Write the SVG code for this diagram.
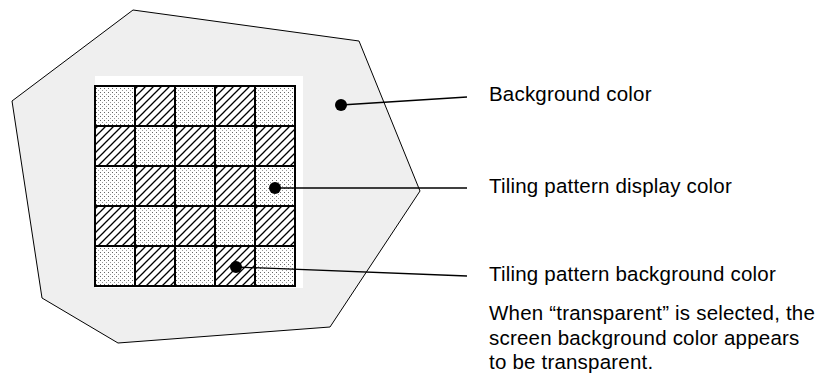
<svg xmlns="http://www.w3.org/2000/svg" width="827" height="374" viewBox="0 0 827 374">
<defs>
<pattern id="hatch" patternUnits="userSpaceOnUse" width="8" height="8">
<path d="M-2,2 L2,-2 M0,8 L8,0 M6,10 L10,6" stroke="#000" stroke-width="1.3"/>
</pattern>
<pattern id="dots" patternUnits="userSpaceOnUse" width="4" height="4">
<rect x="0" y="0" width="1" height="1" fill="#666"/>
<rect x="2" y="2" width="1" height="1" fill="#999"/>
</pattern>
</defs>
<style>
.lbl{font-family:"Liberation Sans",Arial,sans-serif;font-size:20.5px;letter-spacing:0.2px;fill:#000}
.conn{stroke:#000;stroke-width:1.3;fill:none}
.dot{fill:#000}
.grid{stroke:#000;stroke-width:2;fill:none}
</style>
<rect width="827" height="374" fill="#fff"/>
<g id="background">
<polygon points="133,10 359,41 420,191 330,327 118,343 42,298 12,101" fill="#efefef" stroke="#000" stroke-width="1"/>
<rect x="95" y="76" width="208" height="212" fill="#fff"/>
</g>
<g id="tiles">
<rect x="95" y="86" width="200" height="200" fill="url(#dots)"/>
<rect x="135" y="86" width="40" height="40" fill="#fff"/>
<rect x="215" y="86" width="40" height="40" fill="#fff"/>
<rect x="95" y="126" width="40" height="40" fill="#fff"/>
<rect x="175" y="126" width="40" height="40" fill="#fff"/>
<rect x="255" y="126" width="40" height="40" fill="#fff"/>
<rect x="135" y="166" width="40" height="40" fill="#fff"/>
<rect x="215" y="166" width="40" height="40" fill="#fff"/>
<rect x="95" y="206" width="40" height="40" fill="#fff"/>
<rect x="175" y="206" width="40" height="40" fill="#fff"/>
<rect x="255" y="206" width="40" height="40" fill="#fff"/>
<rect x="135" y="246" width="40" height="40" fill="#fff"/>
<rect x="215" y="246" width="40" height="40" fill="#fff"/>
<g fill="url(#hatch)">
<rect x="135" y="86" width="40" height="40"/>
<rect x="215" y="86" width="40" height="40"/>
<rect x="95" y="126" width="40" height="40"/>
<rect x="175" y="126" width="40" height="40"/>
<rect x="255" y="126" width="40" height="40"/>
<rect x="135" y="166" width="40" height="40"/>
<rect x="215" y="166" width="40" height="40"/>
<rect x="95" y="206" width="40" height="40"/>
<rect x="175" y="206" width="40" height="40"/>
<rect x="255" y="206" width="40" height="40"/>
<rect x="135" y="246" width="40" height="40"/>
<rect x="215" y="246" width="40" height="40"/>
</g>
<path class="grid" d="M95,86 H295 V286 H95 Z M135,86 V286 M175,86 V286 M215,86 V286 M255,86 V286 M95,126 H295 M95,166 H295 M95,206 H295 M95,246 H295"/>
</g>
<g id="connectors">
<line class="conn" x1="341" y1="105" x2="467" y2="97"/>
<line class="conn" x1="275" y1="188" x2="467" y2="188"/>
<line class="conn" x1="236" y1="267" x2="467" y2="276"/>
<circle class="dot" cx="341" cy="105" r="6"/>
<circle class="dot" cx="275" cy="188" r="6"/>
<circle class="dot" cx="236" cy="267" r="6"/>
</g>
<g id="label-background">
<text class="lbl" x="489" y="101">Background color</text>
</g>
<g id="label-display">
<text class="lbl" x="489" y="193">Tiling pattern display color</text>
</g>
<g id="label-tile-bg">
<text class="lbl" x="489" y="281">Tiling pattern background color</text>
<text class="lbl" x="489" y="320">When “transparent” is selected, the</text>
<text class="lbl" x="489" y="344.5">screen background color appears</text>
<text class="lbl" x="489" y="368.5">to be transparent.</text>
</g>
</svg>
